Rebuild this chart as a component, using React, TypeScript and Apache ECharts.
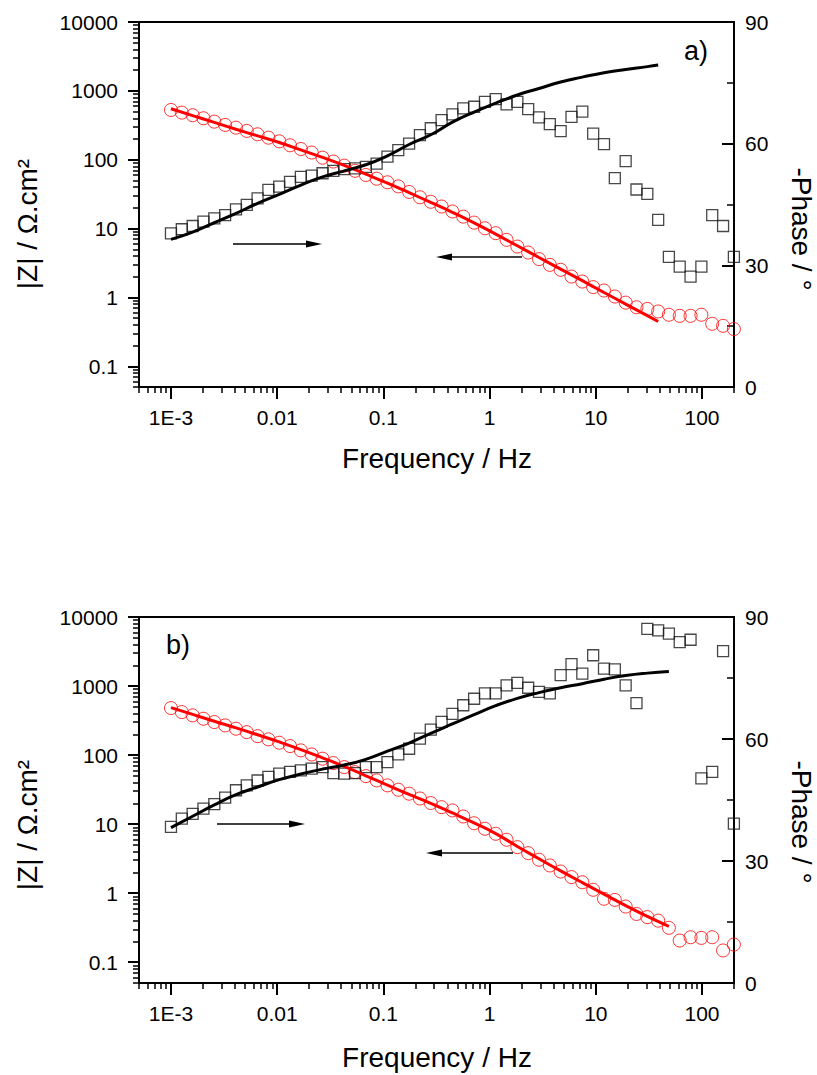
import React, { useEffect, useRef } from 'react';
import * as echarts from 'echarts';

// ---------- data ----------
const freq = [0.001, 0.001265, 0.0016, 0.002022, 0.002559, 0.003236, 0.004093, 0.00517, 0.006538, 0.008266,
  0.01045, 0.01321, 0.01671, 0.02113, 0.02673, 0.0338, 0.04274, 0.05405, 0.06836, 0.08636,
  0.1092, 0.1381, 0.1746, 0.2208, 0.2793, 0.3532, 0.4467, 0.5649, 0.7145, 0.9036,
  1.142, 1.445, 1.825, 2.307, 2.917, 3.69, 4.667, 5.902, 7.464, 9.441,
  11.94, 15.1, 19.1, 24.15, 30.55, 38.64, 48.75, 61.66, 77.98, 98.6,
  124.7, 157.8, 199.5];

const zModA = [528, 483, 443, 400, 357, 320, 292, 262, 234, 209,
  185, 162, 143, 127, 107, 94, 82, 69, 60, 53,
  47, 41, 34, 28.5, 24.5, 20.9, 17.7, 14.9, 12.2, 10.1,
  8.57, 6.86, 5.48, 4.49, 3.6, 2.97, 2.52, 2.01, 1.7, 1.41,
  1.26, 1.03, 0.84, 0.72, 0.68, 0.625, 0.56, 0.54, 0.54, 0.56,
  0.414, 0.387, 0.347];

const phaseA = [37.9, 38.9, 39.7, 40.8, 41.6, 42.4, 43.8, 44.9, 46.5, 48.6,
  49.4, 50.6, 51.8, 52.1, 52.7, 53.3, 53.7, 53.9, 54.3, 55.1,
  56.8, 58.4, 60.0, 62.1, 63.8, 65.8, 67.2, 68.7, 69.1, 70.3,
  71.0, 69.7, 70.3, 68.5, 66.5, 64.8, 63.1, 66.6, 67.9, 62.5,
  59.9, 51.5, 55.7, 48.7, 47.6, 41.2, 32.1, 29.7, 27.2, 29.7,
  42.4, 39.7, 32.1];

const fitFreqA = [0.001, 0.0016, 0.002559, 0.004093, 0.006538, 0.01045, 0.01671, 0.02673, 0.04274, 0.06836,
  0.1092, 0.1746, 0.2793, 0.4467, 0.7145, 1.142, 1.825, 2.917, 4.667, 7.464,
  11.94, 19.1, 30.55, 38.64];
const fitZA = [550, 437, 348, 277, 222, 178, 139, 108, 82.8, 61.7,
  45.7, 33.2, 24.0, 17.2, 12.1, 8.3, 5.62, 3.8, 2.57, 1.75,
  1.18, 0.8, 0.543, 0.447];
const fitPhaseA = [36.4, 38.2, 40.5, 42.8, 45.3, 47.5, 49.8, 51.8, 53.3, 54.8,
  57.0, 59.8, 62.2, 65.3, 67.8, 70.0, 72.0, 73.6, 75.2, 76.4,
  77.5, 78.3, 79.0, 79.4];

const zModB = [480, 420, 376, 336, 301, 269, 241, 215, 188, 169,
  151, 135, 117, 102, 88.7, 76.6, 67, 56.7, 49.6, 43,
  36.4, 31.5, 27.6, 23.5, 20.2, 17.6, 15.8, 12.9, 10.3, 8.57,
  7.25, 5.94, 4.64, 3.8, 3.05, 2.52, 2.06, 1.71, 1.44, 1.12,
  0.83, 0.8, 0.64, 0.5, 0.45, 0.4, 0.315, 0.206, 0.23, 0.225,
  0.23, 0.148, 0.18];

const phaseB = [38.4, 40.4, 41.6, 42.9, 44.0, 45.6, 47.4, 48.6, 49.8, 50.7,
  51.5, 51.9, 52.3, 52.7, 53.1, 51.6, 51.5, 51.6, 53.1, 53.1,
  54.3, 56.2, 57.6, 60.1, 62.3, 64.2, 66.2, 68.3, 69.9, 71.2,
  71.2, 73.2, 73.8, 72.6, 71.6, 71.2, 75.7, 78.4, 76.1, 80.6,
  77.3, 77.1, 73.2, 68.8, 87.1, 86.7, 85.9, 83.8, 84.4, 50.3,
  51.9, 81.6, 39.2];

const fitFreqB = [0.001, 0.0016, 0.002559, 0.004093, 0.006538, 0.01045, 0.01671, 0.02673, 0.04274, 0.06836,
  0.1092, 0.1746, 0.2793, 0.4467, 0.7145, 1.142, 1.825, 2.917, 4.667, 7.464,
  11.94, 19.1, 30.55, 48.75];
const fitZB = [486, 389, 309, 248, 197, 155, 120, 91.2, 68.4, 50.1,
  36.7, 26.9, 20.0, 14.5, 10.4, 7.3, 4.75, 3.15, 2.1, 1.42,
  0.97, 0.66, 0.46, 0.33];
const fitPhaseB = [38.2, 41.0, 43.8, 46.3, 48.2, 50.0, 51.4, 52.6, 53.6, 55.0,
  57.0, 59.0, 61.4, 63.7, 66.0, 68.2, 70.0, 71.4, 72.6, 73.6,
  74.7, 75.6, 76.2, 76.6];

const freqDecades = [-3, -2, -1, 0, 1, 2];
const freqTickLabels = ['1E-3', '0.01', '0.1', '1', '10', '100'];
const zDecades = [-1, 0, 1, 2, 3, 4];
const zTickLabels = ['0.1', '1', '10', '100', '1000', '10000'];

const F_MIN = 0.0005, F_MAX = 200;
const Z_MIN = 0.05, Z_MAX = 10000;
const P_MIN = 0, P_MAX = 90, P_STEP = 30;

// ---------- helpers ----------
const FONT = "'Liberation Sans', Arial, Helvetica, sans-serif";

function minorLogs(lo: number, hi: number) {
  const out: number[] = [];
  for (let n = Math.floor(lo) - 1; n <= Math.ceil(hi); n++) {
    for (let k = 2; k <= 9; k++) {
      const v = n + Math.log10(k);
      if (v >= lo - 1e-6 && v <= hi + 1e-6) out.push(Math.min(Math.max(v, lo), hi));
    }
  }
  return out;
}

const zip = (xs: number[], ys: number[]) => xs.map((x, i) => [x, ys[i]]);

function buildOption() {
  const grids = [
    { left: 139, top: 22, width: 595, height: 365 },
    { left: 139, top: 617, width: 595, height: 366 },
  ];
  const xLo = Math.log10(F_MIN), xHi = Math.log10(F_MAX);
  const yLo = Math.log10(Z_MIN), yHi = Math.log10(Z_MAX);
  const xMinor = minorLogs(xLo, xHi);
  const yMinor = minorLogs(yLo, yHi);
  const tickLine = { color: '#000', width: 2 };
  const minorLine = { color: '#000', width: 1.5 };
  const labelStyle = { fontSize: 21, color: '#000', fontFamily: FONT };

  const xAxis: any[] = [];
  const yAxis: any[] = [];
  grids.forEach((_, g) => {
    xAxis.push({ gridIndex: g, type: 'log', logBase: 10, min: F_MIN, max: F_MAX, show: false });
    xAxis.push({
      gridIndex: g, type: 'value', min: xLo, max: xHi, position: 'bottom',
      axisLine: { show: false, onZero: false }, splitLine: { show: false },
      axisTick: { show: true, customValues: freqDecades, length: 12, lineStyle: tickLine },
      axisLabel: {
        show: true, customValues: freqDecades, margin: 20, ...labelStyle,
        formatter: (v: number) => freqTickLabels[freqDecades.indexOf(Math.round(v))] ?? '',
      },
    });
    xAxis.push({
      gridIndex: g, type: 'value', min: xLo, max: xHi, position: 'bottom',
      axisLine: { show: false, onZero: false }, splitLine: { show: false },
      axisTick: { show: true, customValues: xMinor, length: 6, lineStyle: minorLine },
      axisLabel: { show: false },
    });

    yAxis.push({ gridIndex: g, type: 'log', logBase: 10, min: Z_MIN, max: Z_MAX, show: false });
    yAxis.push({
      gridIndex: g, type: 'value', min: P_MIN, max: P_MAX, interval: P_STEP, position: 'right',
      axisLine: { show: false, onZero: false }, splitLine: { show: false },
      axisTick: { show: true, inside: true, length: 12, lineStyle: tickLine },
      minorTick: { show: true, splitNumber: 2, length: 7, lineStyle: minorLine },
      axisLabel: { show: true, margin: 11, ...labelStyle },
    });
    yAxis.push({
      gridIndex: g, type: 'value', min: yLo, max: yHi, position: 'left',
      axisLine: { show: false, onZero: false }, splitLine: { show: false },
      axisTick: { show: true, customValues: zDecades, length: 11, lineStyle: tickLine },
      axisLabel: {
        show: true, customValues: zDecades, margin: 21, ...labelStyle,
        formatter: (v: number) => zTickLabels[zDecades.indexOf(Math.round(v))] ?? '',
      },
    });
    yAxis.push({
      gridIndex: g, type: 'value', min: yLo, max: yHi, position: 'left',
      axisLine: { show: false, onZero: false }, splitLine: { show: false },
      axisTick: { show: true, customValues: yMinor, length: 6, lineStyle: minorLine },
      axisLabel: { show: false },
    });
  });

  const sets = [
    { z: zModA, p: phaseA, ff: fitFreqA, fz: fitZA, fp: fitPhaseA },
    { z: zModB, p: phaseB, ff: fitFreqB, fz: fitZB, fp: fitPhaseB },
  ];
  const series: any[] = [];
  sets.forEach((s, g) => {
    const xi = g * 3, yz = g * 4, yp = g * 4 + 1;
    series.push({
      type: 'scatter', xAxisIndex: xi, yAxisIndex: yz, data: zip(freq, s.z),
      symbol: 'circle', symbolSize: 13,
      itemStyle: { color: 'transparent', borderColor: '#ff0000', borderWidth: 1 },
    });
    series.push({
      type: 'scatter', xAxisIndex: xi, yAxisIndex: yp, data: zip(freq, s.p),
      symbol: 'rect', symbolSize: 11,
      itemStyle: { color: 'transparent', borderColor: '#1a1a1a', borderWidth: 1.3 },
    });
    series.push({
      type: 'line', xAxisIndex: xi, yAxisIndex: yz, data: zip(s.ff, s.fz),
      symbol: 'none', smooth: true, lineStyle: { color: '#ff0000', width: 3 },
    });
    series.push({
      type: 'line', xAxisIndex: xi, yAxisIndex: yp, data: zip(s.ff, s.fp),
      symbol: 'none', smooth: true, lineStyle: { color: '#000', width: 3 },
    });
  });

  const text = (t: string, x: number, y: number, size: number, rotation = 0) => ({
    type: 'text', x, y, rotation, silent: true,
    style: { text: t, fontSize: size, fontFamily: FONT, fill: '#000', align: 'center', verticalAlign: 'middle' },
  });
  const arrow = (x1: number, x2: number, y: number) => {
    const dir = x2 > x1 ? 1 : -1;
    const hx = x2 - dir * 16;
    return [
      { type: 'line', silent: true, shape: { x1, y1: y, x2: hx, y2: y }, style: { stroke: '#000', lineWidth: 1.3 } },
      { type: 'polygon', silent: true, shape: { points: [[x2, y], [hx, y - 3.5], [hx, y + 3.5]] }, style: { fill: '#000' } },
    ];
  };

  const graphic: any[] = [
    text('Frequency / Hz', 437, 458, 28),
    text('Frequency / Hz', 437, 1057, 28),
    text('|Z| / \u03A9.cm\u00B2', 27, 224, 28, Math.PI / 2),
    text('|Z| / \u03A9.cm\u00B2', 27, 825, 28, Math.PI / 2),
    text('-Phase / \u00B0', 801, 229, 28, -Math.PI / 2),
    text('-Phase / \u00B0', 801, 822, 28, -Math.PI / 2),
    text('a)', 696, 51, 27),
    text('b)', 178, 645, 27),
    ...arrow(233, 322, 244),
    ...arrow(522, 436, 257),
    ...arrow(217, 305, 824),
    ...arrow(513, 426, 853),
  ];

  return {
    animation: false,
    backgroundColor: '#fff',
    grid: grids.map((g) => ({ ...g, show: true, borderColor: '#000', borderWidth: 2, backgroundColor: 'transparent' })),
    xAxis, yAxis, series, graphic,
  };
}

export default function App() {
  const ref = useRef<HTMLDivElement>(null);
  useEffect(() => {
    if (!ref.current) return;
    const chart = echarts.init(ref.current, undefined, { renderer: 'svg' });
    chart.setOption(buildOption() as any);
    return () => chart.dispose();
  }, []);
  return <div ref={ref} style={{ position: 'fixed', left: 0, top: 0, width: 817, height: 1075, background: '#fff' }} />;
}
